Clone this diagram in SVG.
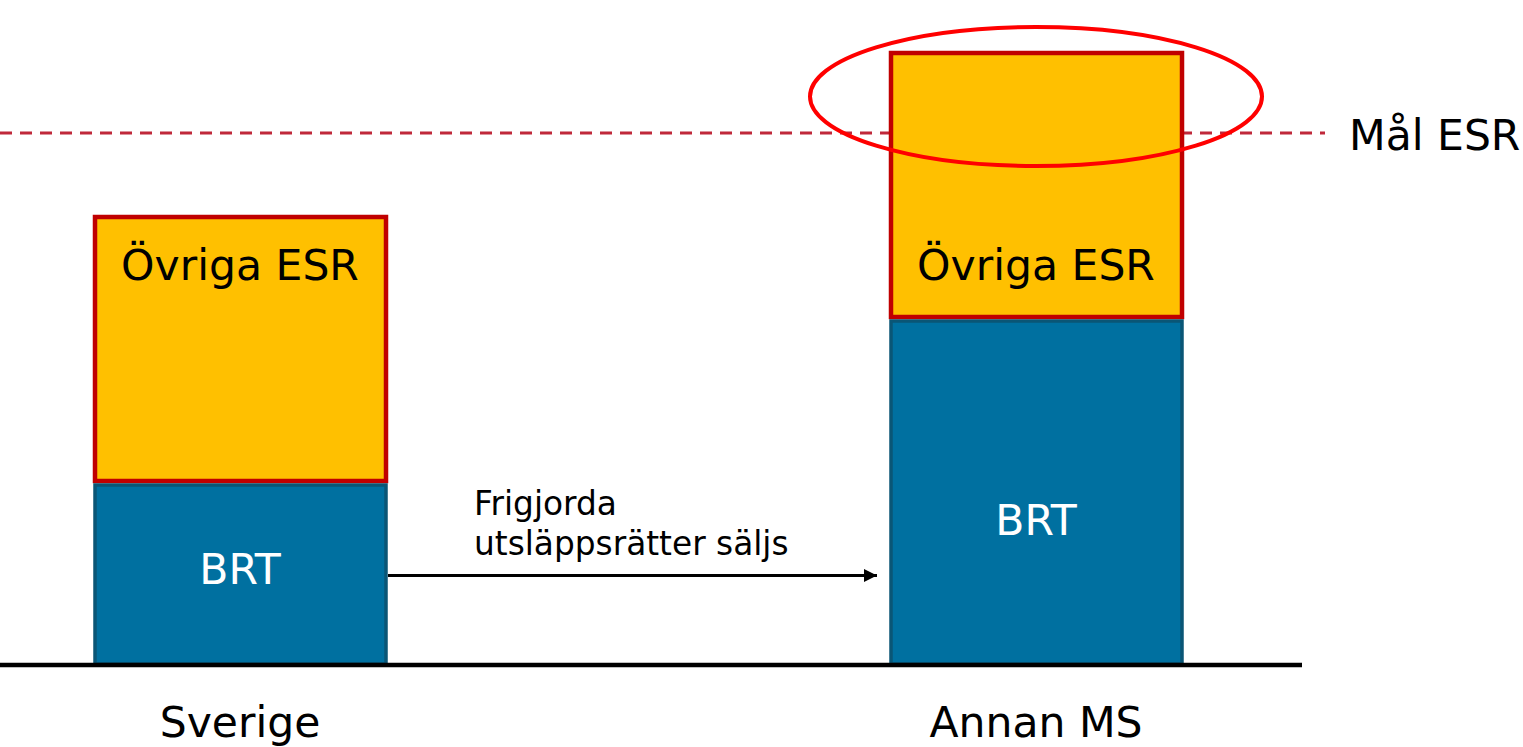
<svg xmlns="http://www.w3.org/2000/svg" width="1523" height="747" viewBox="0 0 1523 747">
<defs>
<style>
.esr{fill:#FFC000;stroke:#C00000;stroke-width:4.5}
.brt{fill:#0070A0;stroke:#0A5676;stroke-width:3.5}
.t{font-family:"DejaVu Sans","Verdana",sans-serif;font-size:42.5px}
.w{fill:#FFFFFF}
.k{fill:#000000}
</style>
<marker id="ah" viewBox="0 0 10 10" refX="10" refY="5" markerWidth="4.6" markerHeight="4.4" orient="auto" markerUnits="strokeWidth">
<path d="M0,0 L10,5 L0,10 z" fill="#000"/>
</marker>
</defs>
<rect width="1523" height="747" fill="#FFFFFF"/>
<g id="target-line">
<line x1="0" y1="133" x2="1325" y2="133" stroke="#C0283A" stroke-width="3" stroke-dasharray="12 8"/>
<text class="t k" x="1349" y="150">Mål ESR</text>
</g>
<g id="sverige">
<rect class="esr" x="95" y="217" width="291" height="264"/>
<text class="t k" x="240" y="280" text-anchor="middle">Övriga ESR</text>
<rect class="brt" x="95" y="485" width="291" height="179"/>
<text class="t w" x="240" y="584" text-anchor="middle">BRT</text>
<text class="t k" x="240" y="737" text-anchor="middle">Sverige</text>
</g>
<g id="annan-ms">
<rect class="esr" x="891" y="53" width="291" height="264"/>
<text class="t k" x="1036" y="280" text-anchor="middle">Övriga ESR</text>
<rect class="brt" x="891" y="321" width="291" height="343"/>
<text class="t w" x="1036" y="535" text-anchor="middle">BRT</text>
<text class="t k" x="1036" y="737" text-anchor="middle">Annan MS</text>
</g>
<g id="baseline">
<line x1="0" y1="665" x2="1302" y2="665" stroke="#000" stroke-width="4.5"/>
</g>
<g id="highlight">
<ellipse cx="1036" cy="96.5" rx="226" ry="69.5" fill="none" stroke="#FF0000" stroke-width="4"/>
</g>
<g id="connectors">
<line x1="388" y1="575.5" x2="877" y2="575.5" stroke="#000" stroke-width="3" marker-end="url(#ah)"/>
<text font-family="DejaVu Sans, Verdana, sans-serif" font-size="32.8" fill="#000"><tspan x="474" y="515">Frigjorda</tspan><tspan x="474" y="555">utsläppsrätter säljs</tspan></text>
</g>
</svg>
